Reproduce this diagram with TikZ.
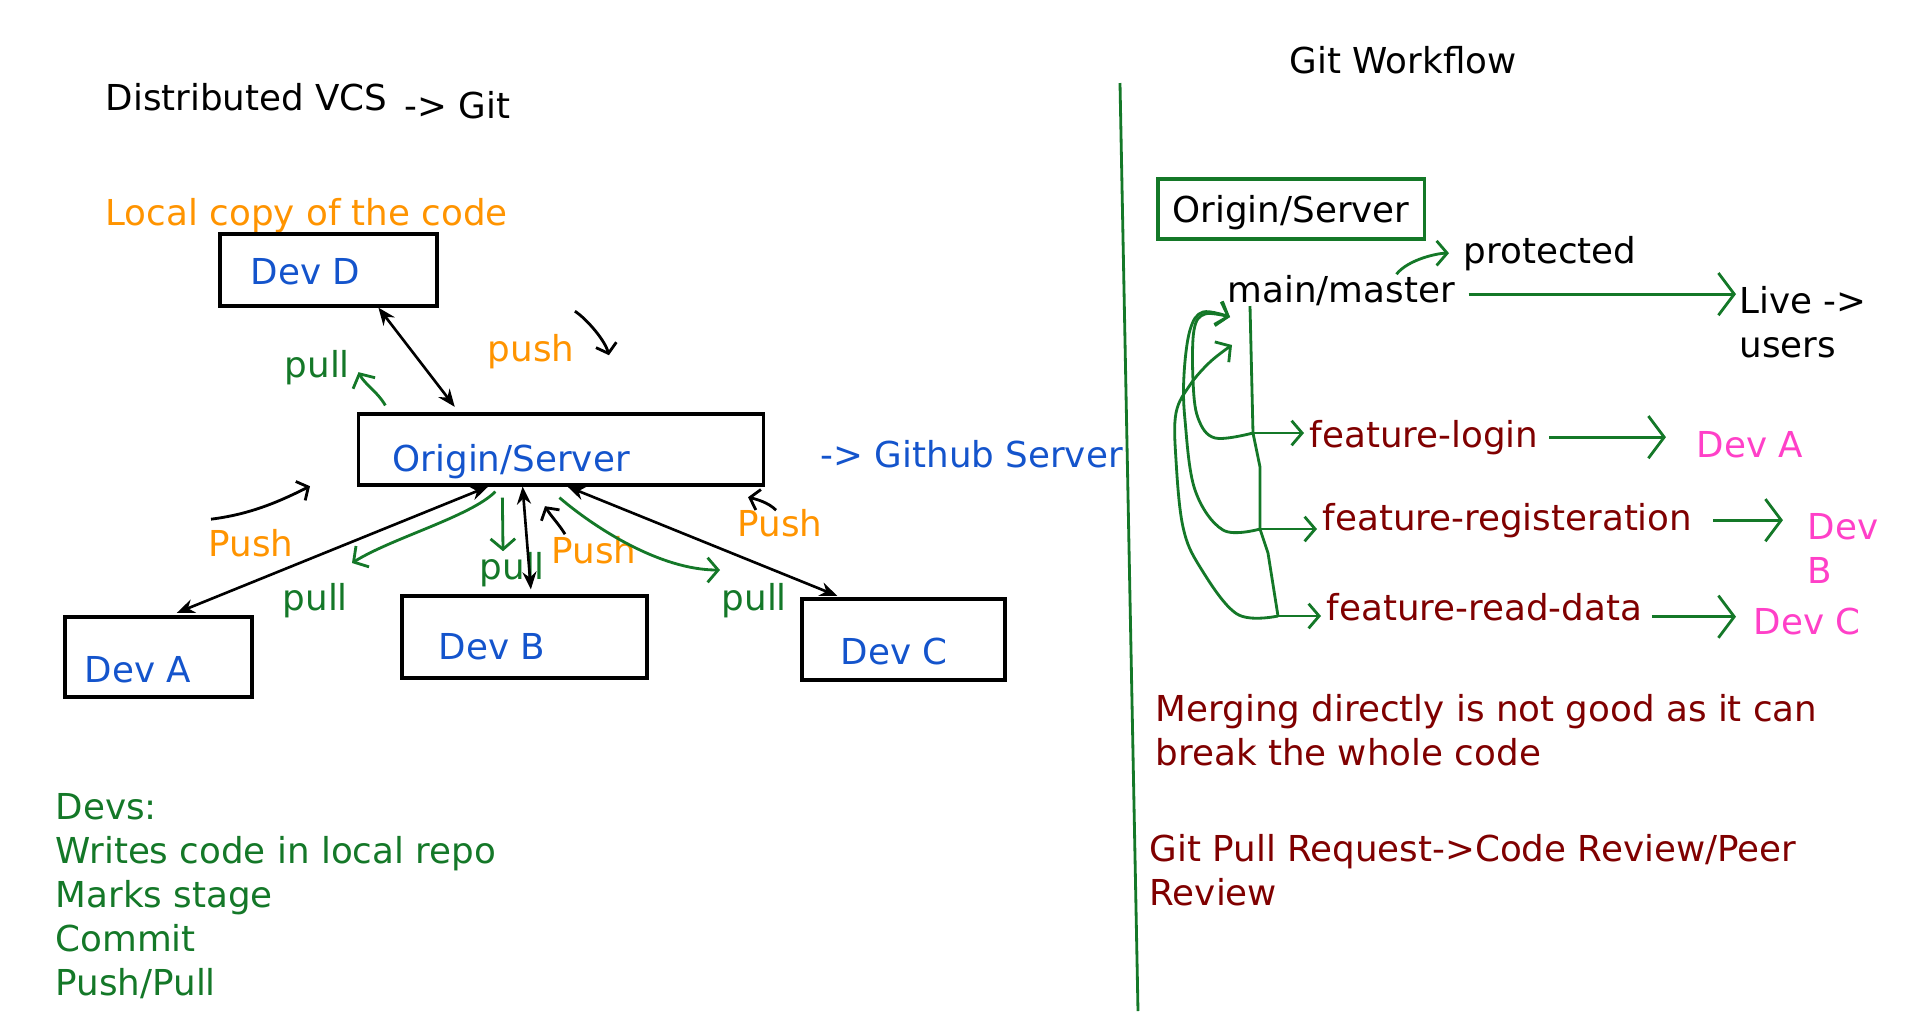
\documentclass[tikz,border=0pt]{standalone}
\usepackage{fontspec}
\setmainfont{DejaVu Sans}
\usetikzlibrary{arrows.meta,positioning,calc}
\definecolor{amber}{RGB}{255,148,0}
\definecolor{cobalt}{RGB}{20,84,204}
\definecolor{leaf}{RGB}{20,120,40}
\definecolor{wine}{RGB}{128,0,0}
\definecolor{rose}{RGB}{255,64,200}
\tikzset{
  txt/.style={font=\fontsize{10.15}{12.5}\selectfont,inner sep=0pt,anchor=base west},
  devbox/.style={draw,line width=0.9pt,inner sep=0pt},
  sync/.style={<->,>={Stealth[length=5pt,width=4pt]},line width=0.75pt},
  hand/.style={leaf,line width=0.8pt,-{Straight Barb[length=3pt,width=7pt]}},
  bighand/.style={leaf,line width=0.8pt,-{Straight Barb[length=4.5pt,width=12pt]}},
  scrib/.style={line width=0.8pt,-{Straight Barb[length=2.5pt,width=6pt]}}
}

\begin{document}
\begin{tikzpicture}[x=0.01cm,y=-0.01cm]
  \fill[white] (0,0) rectangle (1920,1017);
  \useasboundingbox (0,0) rectangle (1920,1017);

  \node[txt] (title) at (105,110) {Distributed VCS};
  \node[txt] (gitL) at (404,118) {-> Git};
  \node[txt,amber] (localcopy) at (105,225) {Local copy of the code};

  \node[devbox,minimum width=2.17cm,minimum height=0.72cm] (devD) at (328.5,270) {};
  \node[txt,cobalt] (devDtxt) at (250,284) {Dev D};
  \node[devbox,minimum width=4.04cm,minimum height=0.71cm] (serverL) at (561,449.5) {};
  \node[txt,cobalt] (serverLtxt) at (392,471) {Origin/Server};
  \node[txt,cobalt] (github) at (820,467) {-> Github Server};
  \node[devbox,minimum width=1.87cm,minimum height=0.8cm] (devA) at (158.5,657) {};
  \node[txt,cobalt] (devAtxt) at (84,682) {Dev A};
  \node[devbox,minimum width=2.45cm,minimum height=0.82cm] (devB) at (524.5,637) {};
  \node[txt,cobalt] (devBtxt) at (438,659) {Dev B};
  \node[devbox,minimum width=2.03cm,minimum height=0.81cm] (devC) at (903.5,639.5) {};
  \node[txt,cobalt] (devCtxt) at (840,664) {Dev C};

  \node[txt,amber] (pushD) at (487,361) {push};
  \node[txt,leaf] (pullD) at (284,377) {pull};
  \node[txt,amber] (pushA) at (208,556) {Push};
  \node[txt,leaf] (pullA) at (282,610) {pull};
  \node[txt,leaf] (pullB) at (479,579) {pull};
  \node[txt,amber] (pushB) at (551,563) {Push};
  \node[txt,leaf] (pullC) at (721,610) {pull};
  \node[txt,amber] (pushC) at (737,536) {Push};

  \draw[sync,shorten >=0.07cm] (devD.-37) -- (serverL.160);
  \draw[sync,shorten >=0.07cm] (serverL.-153) -- (devA.74);
  \draw[sync,shorten >=0.05cm] (serverL.-136) -- (devB.81);
  \draw[sync,shorten >=0.04cm] (serverL.-80) -- (devC.146);

  \coordinate (tipA) at (352,563);
  \coordinate (tipC) at (720,570);
  \draw[hand] ([xshift=0.28cm,yshift=0.07cm]serverL.north west) .. controls +(-8,-14) and +(6,12) .. ([xshift=0.08cm,yshift=-0.05cm]pullD.east);
  \draw[hand] ([xshift=1.38cm,yshift=-0.05cm]serverL.south west) .. controls +(-25,25) and +(40,-25) .. (tipA);
  \draw[hand] ([xshift=1.45cm,yshift=-0.11cm]serverL.south west) -- ([xshift=0.24cm]pullB.north west);
  \draw[hand] ([xshift=2.02cm,yshift=-0.11cm]serverL.south west) .. controls +(35,30) and +(-60,0) .. (tipC);

  \draw[scrib] (pushD.north east) ++(0,-22) .. controls +(12,8) and +(-4,-15) .. ++(34,44);
  \draw[scrib] (pushA.north west) ++(3,-9) .. controls +(40,-5) and +(-30,15) .. ++(99,-33);
  \draw[scrib] (pushB.north west) ++(14,-1) .. controls +(-6,-10) and +(6,10) .. ++(-20,-28);
  \draw[scrib] (pushC.north) ++(-4,2) .. controls +(-8,-8) and +(8,2) .. ++(-28,-13);

  \node[txt,leaf,align=left,anchor=north west] (devs) at (55,793) {Devs:\\Writes code in local repo\\Marks stage\\Commit\\Push/Pull};

  \draw[leaf,line width=0.8pt] (1120,83) -- (1138,1011);

  \node[txt] (gitwf) at (1289,73) {Git Workflow};
  \node[draw=leaf,line width=0.9pt,minimum width=2.66cm,minimum height=0.6cm,
    inner sep=0pt,text depth=0pt,font=\fontsize{10.15}{12.5}\selectfont] (serverR) at (1291,209) {Origin/Server};
  \node[txt] (prot) at (1463,263) {protected};
  \node[txt] (mainM) at (1227,302) {main/master};
  \node[txt,align=left,anchor=north west] (live) at (1739,286) {Live ->\\users};
  \node[txt,wine] (fLogin) at (1309,447) {feature-login};
  \node[txt,wine] (fReg) at (1322,530) {feature-registeration};
  \node[txt,wine] (fRead) at (1326,620) {feature-read-data};
  \node[txt,rose] (devAr) at (1696,457) {Dev A};
  \node[txt,rose,align=left,anchor=north west] (devBr) at (1807,513) {Dev\\B};
  \node[txt,rose] (devCr) at (1753,634) {Dev C};

  \node[txt,wine,align=left,anchor=north west] (merge) at (1155,694) {Merging directly is not good as it can\\break the whole code};
  \node[txt,wine,align=left,anchor=north west] (review) at (1149,834) {Git Pull Request->Code Review/Peer\\Review};

  \draw[hand,shorten >=0.14cm] ([xshift=-0.59cm]mainM.north east) .. controls +(12,-15) and +(-25,0) .. (prot.west);
  \draw[bighand,shorten <=0.13cm,shorten >=0.03cm] ([yshift=-0.04cm]mainM.east) -- ([yshift=-0.04cm]mainM.east -| live.west);

  \coordinate (jLogin) at (1253,433);
  \coordinate (jReg) at (1260,529);
  \coordinate (jRead) at (1278,616);
  \coordinate (backTop) at (1230,317);
  \coordinate (backLow) at (1232,345);
  \draw[leaf,line width=0.8pt] ([xshift=0.23cm]mainM.south west) -- (jLogin) -- (1260,467) -- (jReg) -- (1268,553) -- (jRead);
  \draw[hand,shorten >=0.05cm] (jLogin) -- (jLogin -| fLogin.west);
  \draw[hand,shorten >=0.05cm] (jReg) -- (jReg -| fReg.west);
  \draw[hand,shorten >=0.05cm] (jRead) -- (jRead -| fRead.west);
  \draw[hand] plot[smooth,tension=0.6] coordinates {(jLogin) (1215,438) (1198,418) (1193,380) (1194,330) (1205,314) (backTop)};
  \draw[hand] plot[smooth,tension=0.6] coordinates {(jReg) (1223,530) (1195,490) (1185,420) (1184,375) (1190,330) (1203,312) (backTop)};
  \draw[hand] plot[smooth,tension=0.6] coordinates {(jRead) (1237,614) (1200,567) (1183,527) (1176,460) (1176,413) (1190,385) (1210,362) (backLow)};

  \draw[bighand,shorten <=0.1cm,shorten >=0.3cm] (fLogin.east) -- (fLogin.east -| devAr.west);
  \draw[bighand,shorten <=0.2cm,shorten >=0.24cm] (fReg.east) -- (fReg.east -| devBr.west);
  \draw[bighand,shorten <=0.09cm,shorten >=0.17cm] ([yshift=-0.1cm]fRead.east) -- ([yshift=-0.1cm]fRead.east -| devCr.west);
\end{tikzpicture}
\end{document}
